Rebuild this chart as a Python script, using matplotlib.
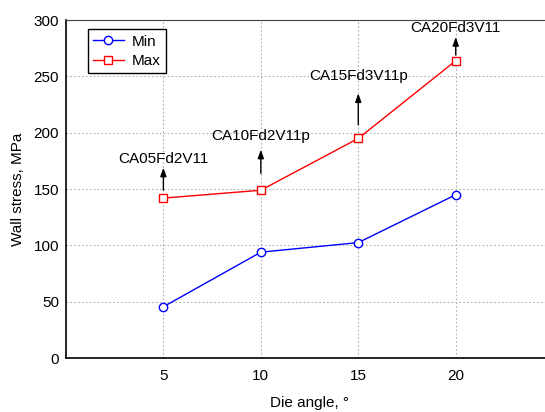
import matplotlib.pyplot as plt

plt.rcParams['font.family'] = ['Liberation Sans', 'DejaVu Sans']

# data
die_angle = [5, 10, 15, 20]
stress_min = [45.5, 94, 102.5, 145]
stress_max = [142, 149, 195, 264]
specimen = ['CA05Fd2V11', 'CA10Fd2V11p', 'CA15Fd3V11p', 'CA20Fd3V11']
arrow_tail = [149, 164, 207, 269]
arrow_head = [169, 185, 235, 285]
label_y = [177, 197, 250, 293]

fig = plt.figure(figsize=(5.45, 4.12), dpi=100)
ax = fig.add_axes([0.121, 0.131, 0.894, 0.820])

ax.plot(die_angle, stress_min, color='blue', lw=1, marker='o', ms=6,
        mfc='white', mec='blue', label='Min')
ax.plot(die_angle, stress_max, color='red', lw=1, marker='s', ms=6,
        mfc='white', mec='red', label='Max')

# specimen labels with arrows
for x, t, h, ly, name in zip(die_angle, arrow_tail, arrow_head, label_y, specimen):
    ax.annotate('', xy=(x, h), xytext=(x, t),
                arrowprops=dict(arrowstyle='-|>,head_length=0.5,head_width=0.18',
                                color='black', lw=1, shrinkA=0, shrinkB=0))
    ax.text(x, ly, name, ha='center', va='center', fontsize=11)

ax.set_xlim(0, 25)
ax.set_ylim(0, 300)
ax.set_xticks([5, 10, 15, 20])
ax.set_yticks(range(0, 301, 50))
ax.tick_params(length=0, labelsize=11, pad=5)
ax.tick_params(axis='x', pad=8)
ax.grid(True, color='#b0b0b0', linestyle=(0, (1.5, 2)), lw=0.8)
ax.set_axisbelow(True)

for s in ['left', 'bottom']:
    ax.spines[s].set_linewidth(1.2)
    ax.spines[s].set_color('black')
ax.spines['top'].set_color('#444444')

ax.set_xlabel('Die angle, °', fontsize=11, labelpad=9)
ax.set_ylabel('Wall stress, MPa', fontsize=11, labelpad=6)

leg = ax.legend(loc='upper left', bbox_to_anchor=(0.045, 0.973), borderaxespad=0,
                fontsize=11, fancybox=False, framealpha=1, edgecolor='black',
                handlelength=2.0, borderpad=0.35, labelspacing=0.35, handletextpad=0.5)
leg.get_frame().set_linewidth(1)

fig.savefig('out.png', dpi=100)
